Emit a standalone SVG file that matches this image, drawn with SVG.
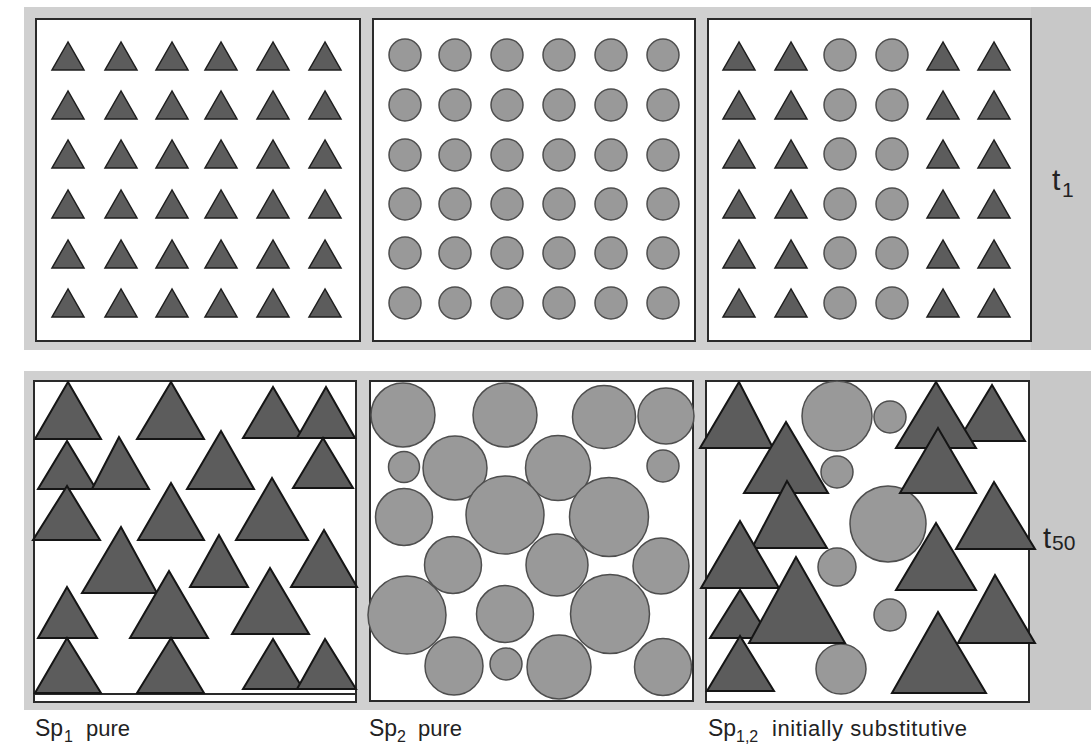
<svg xmlns="http://www.w3.org/2000/svg" xmlns:xlink="http://www.w3.org/1999/xlink" width="1091" height="748" viewBox="0 0 1091 748">
<style>
.band{fill:#d0d0d0}
.side{fill:#c8c8c8}
.panel{fill:#fff;stroke:#2a2a2a;stroke-width:2}
.tri{fill:#5c5c5c;stroke:#1e1e1e;stroke-width:1.5;stroke-linejoin:miter}
.btri{fill:#5c5c5c;stroke:#151515;stroke-width:2;stroke-linejoin:miter}
.cir{fill:#999;stroke:#4e4e4e;stroke-width:1.5}
.lbl{font-family:"Liberation Sans",Arial,sans-serif;fill:#222}
</style>
<defs>
<polygon id="st" class="tri" points="0,0 -16,28 16,28"/>
<circle id="sc" class="cir" r="16"/>
</defs>
<rect width="1091" height="748" fill="#fff"/>
<g id="band-t1">
<rect class="band" x="24" y="7" width="1067" height="343"/>
<rect class="side" x="1031" y="7" width="60" height="343"/>
</g>
<g id="band-t50">
<rect class="band" x="24" y="371" width="1067" height="339"/>
<rect class="side" x="1030" y="371" width="61" height="339"/>
</g>

<g id="t1-sp1">
<rect class="panel" x="36" y="19" width="324" height="322"/>
<g id="t1-sp1-r1"><use href="#st" x="68" y="42"/><use href="#st" x="121" y="42"/><use href="#st" x="172" y="42"/><use href="#st" x="221" y="42"/><use href="#st" x="273" y="42"/><use href="#st" x="325" y="42"/></g>
<g id="t1-sp1-r2"><use href="#st" x="68" y="91"/><use href="#st" x="121" y="91"/><use href="#st" x="172" y="91"/><use href="#st" x="221" y="91"/><use href="#st" x="273" y="91"/><use href="#st" x="325" y="91"/></g>
<g id="t1-sp1-r3"><use href="#st" x="68" y="140"/><use href="#st" x="121" y="140"/><use href="#st" x="172" y="140"/><use href="#st" x="221" y="140"/><use href="#st" x="273" y="140"/><use href="#st" x="325" y="140"/></g>
<g id="t1-sp1-r4"><use href="#st" x="68" y="190"/><use href="#st" x="121" y="190"/><use href="#st" x="172" y="190"/><use href="#st" x="221" y="190"/><use href="#st" x="273" y="190"/><use href="#st" x="325" y="190"/></g>
<g id="t1-sp1-r5"><use href="#st" x="68" y="240"/><use href="#st" x="121" y="240"/><use href="#st" x="172" y="240"/><use href="#st" x="221" y="240"/><use href="#st" x="273" y="240"/><use href="#st" x="325" y="240"/></g>
<g id="t1-sp1-r6"><use href="#st" x="68" y="289"/><use href="#st" x="121" y="289"/><use href="#st" x="172" y="289"/><use href="#st" x="221" y="289"/><use href="#st" x="273" y="289"/><use href="#st" x="325" y="289"/></g>
</g>

<g id="t1-sp2">
<rect class="panel" x="373" y="19" width="322" height="322"/>
<g id="t1-sp2-r1"><use href="#sc" x="405" y="55"/><use href="#sc" x="455" y="55"/><use href="#sc" x="507" y="55"/><use href="#sc" x="559" y="55"/><use href="#sc" x="611" y="55"/><use href="#sc" x="663" y="55"/></g>
<g id="t1-sp2-r2"><use href="#sc" x="405" y="105"/><use href="#sc" x="455" y="105"/><use href="#sc" x="507" y="105"/><use href="#sc" x="559" y="105"/><use href="#sc" x="611" y="105"/><use href="#sc" x="663" y="105"/></g>
<g id="t1-sp2-r3"><use href="#sc" x="405" y="155"/><use href="#sc" x="455" y="155"/><use href="#sc" x="507" y="155"/><use href="#sc" x="559" y="155"/><use href="#sc" x="611" y="155"/><use href="#sc" x="663" y="155"/></g>
<g id="t1-sp2-r4"><use href="#sc" x="405" y="204"/><use href="#sc" x="455" y="204"/><use href="#sc" x="507" y="204"/><use href="#sc" x="559" y="204"/><use href="#sc" x="611" y="204"/><use href="#sc" x="663" y="204"/></g>
<g id="t1-sp2-r5"><use href="#sc" x="405" y="253"/><use href="#sc" x="455" y="253"/><use href="#sc" x="507" y="253"/><use href="#sc" x="559" y="253"/><use href="#sc" x="611" y="253"/><use href="#sc" x="663" y="253"/></g>
<g id="t1-sp2-r6"><use href="#sc" x="405" y="303"/><use href="#sc" x="455" y="303"/><use href="#sc" x="507" y="303"/><use href="#sc" x="559" y="303"/><use href="#sc" x="611" y="303"/><use href="#sc" x="663" y="303"/></g>
</g>

<g id="t1-sp12">
<rect class="panel" x="708" y="19" width="323" height="322"/>
<g id="t1-sp12-r1"><use href="#st" x="739" y="42"/><use href="#st" x="791" y="42"/><use href="#sc" x="840" y="55"/><use href="#sc" x="892" y="55"/><use href="#st" x="943" y="42"/><use href="#st" x="994" y="42"/></g>
<g id="t1-sp12-r2"><use href="#st" x="739" y="91"/><use href="#st" x="791" y="91"/><use href="#sc" x="840" y="105"/><use href="#sc" x="892" y="105"/><use href="#st" x="943" y="91"/><use href="#st" x="994" y="91"/></g>
<g id="t1-sp12-r3"><use href="#st" x="739" y="140"/><use href="#st" x="791" y="140"/><use href="#sc" x="840" y="154"/><use href="#sc" x="892" y="154"/><use href="#st" x="943" y="140"/><use href="#st" x="994" y="140"/></g>
<g id="t1-sp12-r4"><use href="#st" x="739" y="190"/><use href="#st" x="791" y="190"/><use href="#sc" x="840" y="204"/><use href="#sc" x="892" y="204"/><use href="#st" x="943" y="190"/><use href="#st" x="994" y="190"/></g>
<g id="t1-sp12-r5"><use href="#st" x="739" y="240"/><use href="#st" x="791" y="240"/><use href="#sc" x="840" y="253"/><use href="#sc" x="892" y="253"/><use href="#st" x="943" y="240"/><use href="#st" x="994" y="240"/></g>
<g id="t1-sp12-r6"><use href="#st" x="739" y="289"/><use href="#st" x="791" y="289"/><use href="#sc" x="840" y="303"/><use href="#sc" x="892" y="303"/><use href="#st" x="943" y="289"/><use href="#st" x="994" y="289"/></g>
</g>

<g id="t50-sp1">
<rect class="panel" x="34" y="381" width="322" height="321"/>
<line x1="34" y1="694" x2="356" y2="694" stroke="#2a2a2a" stroke-width="2"/>
<polygon class="btri" points="68,382 35,439 101,439"/>
<polygon class="btri" points="171,382 137,439 204,439"/>
<polygon class="btri" points="273,387 243,438 303,438"/>
<polygon class="btri" points="326,387 297,438 355,438"/>
<polygon class="btri" points="67,441 38,489 96,489"/>
<polygon class="btri" points="119,437 92,489 149,489"/>
<polygon class="btri" points="221,431 187,489 254,489"/>
<polygon class="btri" points="323,438 293,488 353,488"/>
<polygon class="btri" points="67,486 33,540 100,540"/>
<polygon class="btri" points="171,483 138,540 204,540"/>
<polygon class="btri" points="272,478 236,540 308,540"/>
<polygon class="btri" points="121,527 82,593 157,593"/>
<polygon class="btri" points="219,535 190,587 248,587"/>
<polygon class="btri" points="324,530 291,587 357,587"/>
<polygon class="btri" points="67,587 38,638 97,638"/>
<polygon class="btri" points="169,571 130,638 208,638"/>
<polygon class="btri" points="270,568 232,634 309,634"/>
<polygon class="btri" points="67,638 35,693 101,693"/>
<polygon class="btri" points="171,638 137,693 204,693"/>
<polygon class="btri" points="273,639 243,689 303,689"/>
<polygon class="btri" points="325,639 297,689 356,689"/>
</g>

<g id="t50-sp2">
<rect class="panel" x="370" y="381" width="323" height="320"/>
<circle class="cir" cx="403" cy="415" r="32"/>
<circle class="cir" cx="505" cy="415" r="32"/>
<circle class="cir" cx="604" cy="417" r="31.5"/>
<circle class="cir" cx="666" cy="416" r="28"/>
<circle class="cir" cx="404" cy="467" r="15.5"/>
<circle class="cir" cx="455" cy="468" r="32"/>
<circle class="cir" cx="558" cy="468" r="32.5"/>
<circle class="cir" cx="663" cy="466" r="16"/>
<circle class="cir" cx="404" cy="517" r="28.5"/>
<circle class="cir" cx="505" cy="515" r="39"/>
<circle class="cir" cx="609" cy="517" r="39.5"/>
<circle class="cir" cx="453" cy="565" r="28.5"/>
<circle class="cir" cx="557" cy="565" r="31"/>
<circle class="cir" cx="661" cy="566" r="28"/>
<circle class="cir" cx="407" cy="615" r="39"/>
<circle class="cir" cx="505" cy="614" r="28.5"/>
<circle class="cir" cx="610" cy="614" r="39.5"/>
<circle class="cir" cx="454" cy="666" r="29"/>
<circle class="cir" cx="506" cy="664" r="16"/>
<circle class="cir" cx="559" cy="667" r="32"/>
<circle class="cir" cx="663" cy="667" r="28.5"/>
</g>

<g id="t50-sp12">
<rect class="panel" x="706" y="381" width="323" height="321"/>
<circle class="cir" cx="837" cy="416" r="35"/>
<circle class="cir" cx="890" cy="417" r="16"/>
<circle class="cir" cx="837" cy="472" r="16"/>
<circle class="cir" cx="888" cy="524" r="38"/>
<circle class="cir" cx="837" cy="567" r="19"/>
<circle class="cir" cx="890" cy="615" r="16"/>
<circle class="cir" cx="841" cy="669" r="25"/>
<polygon class="btri" points="739,382 700,448 773,448"/>
<polygon class="btri" points="786,422 744,493 828,493"/>
<polygon class="btri" points="787,481 752,548 827,548"/>
<polygon class="btri" points="740,521 701,588 779,588"/>
<polygon class="btri" points="740,590 710,638 770,638"/>
<polygon class="btri" points="796,557 749,643 845,643"/>
<polygon class="btri" points="740,636 707,691 774,691"/>
<polygon class="btri" points="992,385 958,441 1025,441"/>
<polygon class="btri" points="936,382 896,448 976,448"/>
<polygon class="btri" points="938,428 900,493 976,493"/>
<polygon class="btri" points="994,482 956,549 1035,549"/>
<polygon class="btri" points="936,523 896,590 976,590"/>
<polygon class="btri" points="995,575 958,643 1035,643"/>
<polygon class="btri" points="938,612 892,693 986,693"/>
</g>

<g id="label-t1">
<text class="lbl" x="1052" y="190" font-size="30">t</text>
<text class="lbl" x="1062" y="197" font-size="21">1</text>
</g>
<g id="label-t50">
<text class="lbl" x="1043" y="548" font-size="29">t</text>
<text class="lbl" x="1052" y="550" font-size="21">50</text>
</g>
<g id="label-sp1">
<text class="lbl" x="35" y="736" font-size="23">Sp</text>
<text class="lbl" x="64" y="742" font-size="16">1</text>
<text class="lbl" x="86" y="736" font-size="22">pure</text>
</g>
<g id="label-sp2">
<text class="lbl" x="369" y="736" font-size="23">Sp</text>
<text class="lbl" x="397" y="742" font-size="16">2</text>
<text class="lbl" x="418" y="736" font-size="22">pure</text>
</g>
<g id="label-sp12">
<text class="lbl" x="708" y="736" font-size="23">Sp</text>
<text class="lbl" x="736" y="742" font-size="16">1,2</text>
<text class="lbl" x="772" y="736" font-size="22" textLength="195" lengthAdjust="spacing">initially substitutive</text>
</g>
</svg>
